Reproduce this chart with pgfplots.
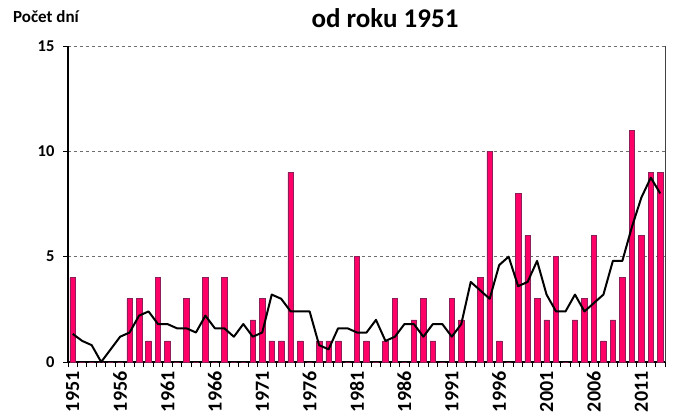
\documentclass[border=0pt]{standalone}
\usepackage{fontspec}
\setmainfont{Carlito}
\usepackage{pgfplots}
\pgfplotsset{compat=1.18}

\definecolor{barfill}{RGB}{255,0,102}
\definecolor{baredge}{RGB}{140,30,90}
\definecolor{gridgray}{RGB}{110,110,110}

\begin{document}
\begin{tikzpicture}[x=1pt,y=1pt]
\path[use as bounding box] (-68,-55) rectangle (608,362);
\begin{axis}[
    scale only axis,
    width=597pt, height=316pt,
    xmin=1950.5, xmax=2013.5,
    ymin=0, ymax=15,
    axis lines=left,
    axis line style={-, black, line width=1.2pt},
    ytick={0,5,10,15},
    ymajorgrids,
    grid style={dashed, gridgray, line width=0.8pt},
    tick align=outside,
    major tick length=5pt,
    tick style={black, line width=0.9pt},
    xtick={1950.5,1951.5,...,2013.5},
    xticklabels={},
    extra x ticks={1951,1956,...,2011},
    extra x tick style={major tick length=0pt, grid=none},
    /pgf/number format/1000 sep={},
    /pgf/number format/assume math mode=true,
    x tick label style={rotate=90, anchor=east, font=\bfseries\fontsize{20}{20}\selectfont, xshift=-6pt},
    y tick label style={font=\bfseries\fontsize{16.5}{16.5}\selectfont, xshift=-5pt},
    clip=false,
]
\addplot[ybar, bar width=5.5pt, fill=barfill, draw=baredge, line width=0.6pt] coordinates {
(1951,4) (1952,0) (1953,0) (1954,0) (1955,0) (1956,0) (1957,3) (1958,3) (1959,1) (1960,4)
(1961,1) (1962,0) (1963,3) (1964,0) (1965,4) (1966,0) (1967,4) (1968,0) (1969,0) (1970,2)
(1971,3) (1972,1) (1973,1) (1974,9) (1975,1) (1976,0) (1977,1) (1978,1) (1979,1) (1980,0)
(1981,5) (1982,1) (1983,0) (1984,1) (1985,3) (1986,0) (1987,2) (1988,3) (1989,1) (1990,0)
(1991,3) (1992,2) (1993,0) (1994,4) (1995,10) (1996,1) (1997,0) (1998,8) (1999,6) (2000,3)
(2001,2) (2002,5) (2003,0) (2004,2) (2005,3) (2006,6) (2007,1) (2008,2) (2009,4) (2010,11)
(2011,6) (2012,9) (2013,9)
};
\addplot[black, line width=2pt, no markers, sharp plot, line join=round] coordinates {
(1951,1.333) (1952,1.0) (1953,0.8) (1954,0) (1955,0.6) (1956,1.2) (1957,1.4) (1958,2.2)
(1959,2.4) (1960,1.8) (1961,1.8) (1962,1.6) (1963,1.6) (1964,1.4) (1965,2.2) (1966,1.6)
(1967,1.6) (1968,1.2) (1969,1.8) (1970,1.2) (1971,1.4) (1972,3.2) (1973,3.0) (1974,2.4)
(1975,2.4) (1976,2.4) (1977,0.8) (1978,0.6) (1979,1.6) (1980,1.6) (1981,1.4) (1982,1.4)
(1983,2.0) (1984,1.0) (1985,1.2) (1986,1.8) (1987,1.8) (1988,1.2) (1989,1.8) (1990,1.8)
(1991,1.2) (1992,1.8) (1993,3.8) (1994,3.4) (1995,3.0) (1996,4.6) (1997,5.0) (1998,3.6)
(1999,3.8) (2000,4.8) (2001,3.2) (2002,2.4) (2003,2.4) (2004,3.2) (2005,2.4) (2006,2.8)
(2007,3.2) (2008,4.8) (2009,4.8) (2010,6.4) (2011,7.8) (2012,8.75) (2013,8.0)
};
\draw[gridgray!60!black, line width=1pt] (rel axis cs:1,0) -- (rel axis cs:1,1);
\end{axis}
\node[font=\bfseries\fontsize{27}{27}\selectfont] at (317,344) {od roku 1951};
\node[font=\bfseries\fontsize{17}{17}\selectfont] at (-22,345) {Počet dní};
\end{tikzpicture}
\end{document}
